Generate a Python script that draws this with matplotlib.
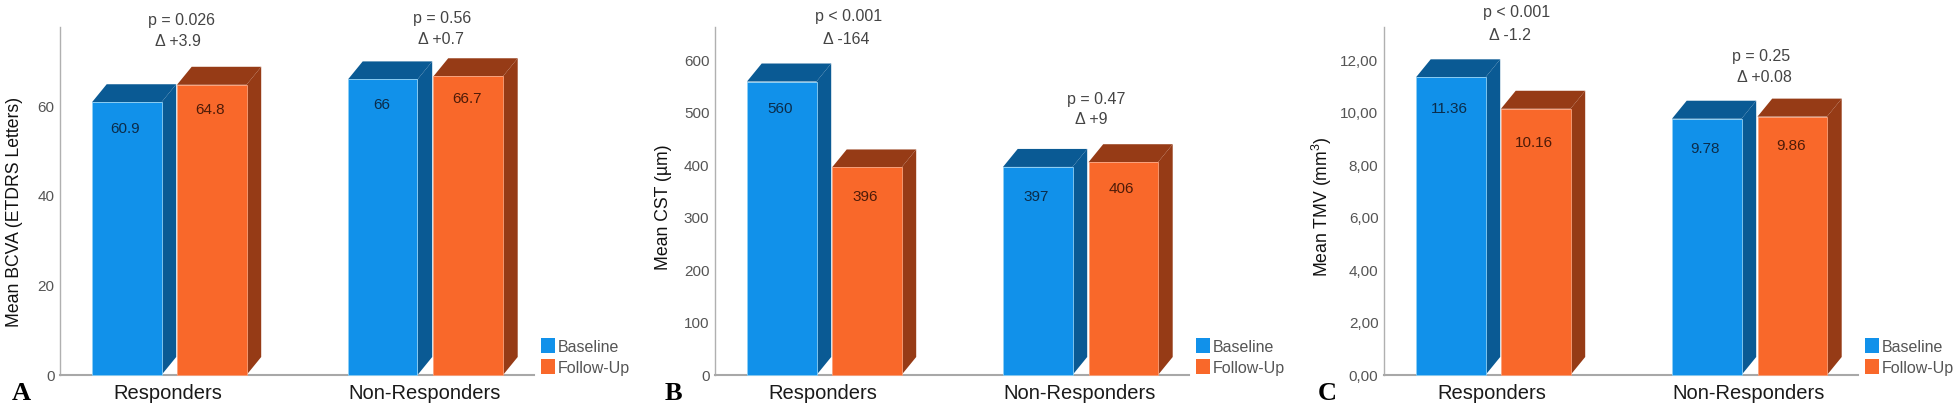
import matplotlib
matplotlib.use("Agg")
import matplotlib.pyplot as plt
from matplotlib.patches import Rectangle

W, H = 1960, 411
plt.rcParams["font.family"] = ["Liberation Sans"]
plt.rcParams["mathtext.default"] = "regular"

BLUE, BLUE_DARK = "#1191ea", "#0a5a94"
ORANGE, ORANGE_DARK = "#f9682a", "#963b16"
GREY = "#555555"

groups = ["Responders", "Non-Responders"]
series = ["Baseline", "Follow-Up"]

bcva_base = [60.9, 66]
bcva_follow = [64.8, 66.7]
bcva_text = [["60.9", "66"], ["64.8", "66.7"]]
bcva_ticks = [0, 20, 40, 60]
bcva_ticklabels = ["0", "20", "40", "60"]

cst_base = [560, 397]
cst_follow = [396, 406]
cst_text = [["560", "397"], ["396", "406"]]
cst_ticks = [0, 100, 200, 300, 400, 500, 600]
cst_ticklabels = ["0", "100", "200", "300", "400", "500", "600"]

tmv_base = [11.36, 9.78]
tmv_follow = [10.16, 9.86]
tmv_text = [["11.36", "9.78"], ["10.16", "9.86"]]
tmv_ticks = [0, 2, 4, 6, 8, 10, 12]
tmv_ticklabels = ["0,00", "2,00", "4,00", "6,00", "8,00", "10,00", "12,00"]

# pixel layout, shared by the panels
AX_TOP, AX_BOTTOM, AX_W = 27, 375, 474
BAR_LEFT = [[32, 288], [117, 373.5]]
BAR_W = 69.5
DEPTH_X, DEPTH_Y = 14.7, 18


def px_text(fig, x, y, s, **kw):
    fig.text(x / W, 1 - y / H, s, **kw)


def draw_panel(fig, ax_left, ymax, base, follow, labels, ticks, ticklabels, ylabel, ylabel_x, ylabel_y, letter, letter_x, notes, label_drop):
    ax = fig.add_axes([ax_left / W, 1 - AX_BOTTOM / H, AX_W / W, (AX_BOTTOM - AX_TOP) / H])
    ax.set_xlim(0, AX_W)
    ax.set_ylim(0, ymax)
    dy = DEPTH_Y * ymax / (AX_BOTTOM - AX_TOP)

    for s, (vals, front, dark) in enumerate([(base, BLUE, BLUE_DARK), (follow, ORANGE, ORANGE_DARK)]):
        for g, v in enumerate(vals):
            x = BAR_LEFT[s][g]
            r = x + BAR_W
            ax.fill([r, r + DEPTH_X, r + DEPTH_X, r], [0, dy, v + dy, v], color=dark, lw=0, clip_on=False, zorder=2 + s)
            ax.fill([x, x + DEPTH_X, r + DEPTH_X, r], [v, v + dy, v + dy, v], color=dark, lw=0, clip_on=False, zorder=2 + s)
            ax.bar(x, v, BAR_W, align="edge", color=front, edgecolor="#8fd0f5" if s == 0 else "#fba27c", linewidth=0.6, zorder=3 + s, clip_on=False)
            ax.annotate(labels[s][g], (x + BAR_W / 2, v), xytext=(-1, -label_drop[s][g] * 0.72), textcoords="offset points",
                        ha="center", va="center", fontsize=11, zorder=6,
                        color="#0b2c4a" if s == 0 else "#4d1b08")

    ax.set_xticks([])
    ax.set_yticks(ticks)
    ax.set_yticklabels(ticklabels, fontsize=11, color=GREY)
    ax.tick_params(axis="y", length=0, pad=4)
    for side in ["top", "right"]:
        ax.spines[side].set_visible(False)
    ax.spines["left"].set_color("#b0b0b0")
    ax.spines["left"].set_linewidth(1.0)
    ax.spines["bottom"].set_color("#a8a8a8")
    ax.spines["bottom"].set_linewidth(1.5)

    px_text(fig, ylabel_x, ylabel_y, ylabel, rotation=90, ha="center", va="center", fontsize=12.7, color="#111111")
    px_text(fig, ax_left + 108, 393, groups[0], ha="center", va="center", fontsize=14.5, color="#1a1a1a")
    px_text(fig, ax_left + 365, 393, groups[1], ha="center", va="center", fontsize=14.5, color="#1a1a1a")
    px_text(fig, letter_x, 393, letter, ha="center", va="center", fontsize=19, fontweight="bold", family="Liberation Serif", color="black")

    for nx, ny, s in notes:
        px_text(fig, nx, ny, s, ha="center", va="center", fontsize=11.5, color="#444444")

    # legend
    lx = ax_left + 481
    for i, (name, c) in enumerate(zip(series, [BLUE, ORANGE])):
        top = 338 + i * 21
        fig.add_artist(Rectangle((lx / W, 1 - (top + 15) / H), 14 / W, 15 / H, transform=fig.transFigure, facecolor=c, edgecolor="none"))
        px_text(fig, lx + 17, top + 9, name, ha="left", va="center", fontsize=11.5, color=GREY)


fig = plt.figure(figsize=(W / 100, H / 100), dpi=100)

draw_panel(fig, 60, 77.7, bcva_base, bcva_follow, bcva_text, bcva_ticks, bcva_ticklabels,
           "Mean BCVA (ETDRS Letters)", 15, 212, "A", 21,
           [(181, 20, "p = 0.026"), (177.6, 42, "Δ +3.9"), (442, 19, "p = 0.56"), (441, 39, "Δ +0.7")],
           [[27, 26], [25, 23]])
draw_panel(fig, 715, 664, cst_base, cst_follow, cst_text, cst_ticks, cst_ticklabels,
           "Mean CST (µm)", 663, 207, "B", 673,
           [(849, 16, "p < 0.001"), (846, 40, "Δ -164"), (1096, 99, "p = 0.47"), (1091, 120, "Δ +9")],
           [[27, 30], [30, 27]])
draw_panel(fig, 1384, 13.28, tmv_base, tmv_follow, tmv_text, tmv_ticks, tmv_ticklabels,
           "Mean TMV (mm$^3$)", 1322, 207, "C", 1327,
           [(1517, 13, "p < 0.001"), (1510, 35, "Δ -1.2"), (1761, 57, "p = 0.25"), (1764, 78, "Δ +0.08")],
           [[32, 30], [34, 29]])

fig.savefig("out.png", dpi=100)
